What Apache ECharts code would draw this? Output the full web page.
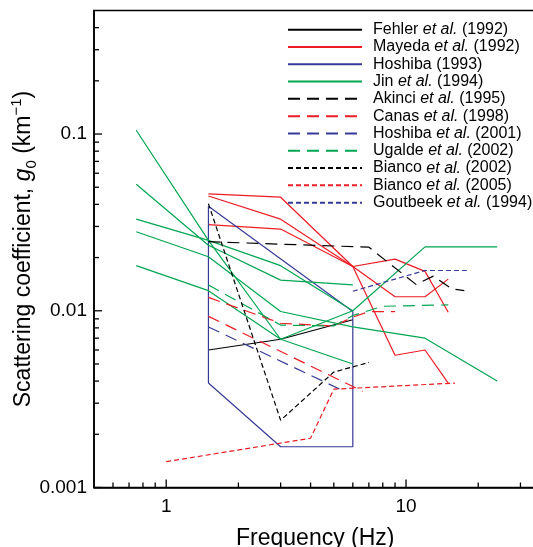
<!DOCTYPE html>
<html><head><meta charset="utf-8">
<script src="https://cdn.jsdelivr.net/npm/echarts@6/dist/echarts.min.js"></script>
<style>html,body{margin:0;padding:0;background:#fff}#c{width:533px;height:547px}</style>
</head><body><div id="c"></div>
<script>
// ---- data (frequency Hz, g0 km^-1) ----
const fehler = [[1.5,0.0060],[3,0.0069],[6,0.0089]];
const mayeda1 = [[1.5,0.0458],[3,0.0439],[6,0.0178],[9,0.0196],[12,0.0167],[15,0.0098]];
const mayeda2 = [[1.5,0.0446],[3,0.0330],[6,0.0178],[9,0.0120],[12,0.0120],[15,0.0151]];
const mayeda3 = [[1.5,0.0307],[3,0.0290],[6,0.0178],[9,0.0056],[12,0.0060],[15,0.0039]];
const hoshiba93 = [[1.5,0.039],[6,0.0099],[6,0.0017],[3,0.0017],[1.5,0.0039],[1.5,0.039]];
const jin1 = [[0.75,0.105],[1.5,0.025],[3,0.0069],[6,0.0100],[12,0.023],[24,0.023]];
const jin2 = [[0.75,0.052],[1.5,0.0235],[3,0.0149],[6,0.0140]];
const jin3 = [[0.75,0.033],[1.5,0.025],[3,0.0180],[6,0.0100]];
const jin4 = [[0.75,0.028],[1.5,0.0202],[3,0.0099],[6,0.0081],[12,0.0070],[24,0.0040]];
const jin5 = [[0.75,0.018],[1.5,0.013],[3,0.0069],[6,0.0050]];
const akinci = [[1.5,0.0246],[7,0.0229],[11,0.0141],[13,0.0157],[15.5,0.0133],[17.5,0.0130]];
const canas1 = [[1.5,0.0119],[3,0.0085],[5,0.0082],[6,0.0092],[7,0.0099],[9,0.0099]];
const canas2 = [[1.5,0.0093],[6.6,0.0035]];
const hoshiba01 = [[1.5,0.0081],[5.3,0.0036]];
const ugalde = [[1.5,0.0140],[3,0.0083],[5,0.0082],[6,0.0094],[8,0.0106],[15,0.0108]];
const bianco02 = [[1.5,0.0404],[3,0.0024],[5,0.0045],[7,0.0051]];
const bianco05 = [[1,0.0014],[4,0.0019],[5,0.0036],[16,0.0039]];
const goutbeek = [[6,0.0129],[12,0.0169],[18,0.0169]];

const xTicks = [0.6,0.7,0.8,0.9,1,2,3,4,5,6,7,8,9,10,20,30];
const yTicks = [0.001,0.002,0.003,0.004,0.005,0.006,0.007,0.008,0.009,0.01,0.02,0.03,0.04,0.05,0.06,0.07,0.08,0.09,0.1,0.2,0.3,0.4];

const RED='#ed1c24', GREEN='#00a651', BLUE='#363a96', BLACK='#000000';
const LONG=[12,7], SHORT=[5,3];

const legendNames = [
 ['Fehler','et al.','(1992)'],['Mayeda','et al.','(1992)'],['Hoshiba','', '(1993)'],['Jin','et al.','(1994)'],
 ['Akinci','et al.','(1995)'],['Canas','et al.','(1998)'],['Hoshiba','et al.','(2001)'],['Ugalde','et al.','(2002)'],
 ['Bianco','et al.','(2002)'],['Bianco','et al.','(2005)'],['Goutbeek','et al.','(1994)']
];
const names = legendNames.map(a => a.join(' ').replace('  ',' '));

function line(name, data, color, dash){
  return {type:'line', name, data, symbol:'none', silent:true, animation:false,
    lineStyle:{color, width:1.2, type: dash || 'solid'}, itemStyle:{color}};
}
const series = [
  line(names[0], fehler, BLACK),
  line(names[1], mayeda1, RED), line(names[1], mayeda2, RED), line(names[1], mayeda3, RED),
  line(names[2], hoshiba93, BLUE),
  line(names[3], jin1, GREEN), line(names[3], jin2, GREEN), line(names[3], jin3, GREEN), line(names[3], jin4, GREEN), line(names[3], jin5, GREEN),
  line(names[4], akinci, BLACK, LONG),
  line(names[5], canas1, RED, LONG), line(names[5], canas2, RED, LONG),
  line(names[6], hoshiba01, BLUE, LONG),
  line(names[7], ugalde, GREEN, LONG),
  line(names[8], bianco02, BLACK, SHORT),
  line(names[9], bianco05, RED, SHORT),
  line(names[10], goutbeek, BLUE, SHORT)
];
const XMIN=0.5, XMAX=35, YMIN=0.001, YMAX=0.5;
function isPow10(v){ const l=Math.log10(v); return Math.abs(l-Math.round(l))<1e-6; }
series.push({type:'custom', silent:true, animation:false, clip:false, z:10,
  data: xTicks.map(v=>[v, YMIN]), encode:{x:0,y:1},
  renderItem:(p,api)=>{ const v=api.value(0); const c=api.coord([v, api.value(1)]); const L=isPow10(v)?8:5;
    return {type:'line', shape:{x1:c[0],y1:c[1],x2:c[0],y2:c[1]-L}, style:{stroke:'#000',lineWidth:1.3}}; }});
series.push({type:'custom', silent:true, animation:false, clip:false, z:10,
  data: yTicks.map(v=>[XMIN, v]), encode:{x:0,y:1},
  renderItem:(p,api)=>{ const v=api.value(1); const c=api.coord([api.value(0), v]); const L=isPow10(v)?8:5;
    return {type:'line', shape:{x1:c[0],y1:c[1],x2:c[0]+L,y2:c[1]}, style:{stroke:'#000',lineWidth:1.3}}; }});

const FONT='Liberation Sans, Arial, Helvetica, sans-serif';
const chart = echarts.init(document.getElementById('c'));
chart.setOption({
  animation:false,
  grid:{left:94, right:-3.5, top:10.5, bottom:59.5, show:true, borderColor:'#000', borderWidth:1.6,
        containLabel:false, outerBoundsMode:'none'},
  legend:{
    orient:'vertical', left:287, top:21, padding:0, itemWidth:74, itemHeight:12, itemGap:0,
    itemStyle:{opacity:0},
    data: names,
    formatter: (n)=>{ const a = legendNames[names.indexOf(n)];
      return '{sp|}{n|'+a[0]+' }'+(a[1]?'{i|'+a[1]+'}{n| }':'')+'{n|'+a[2]+'}'; },
    textStyle:{fontFamily:FONT, fontSize:16, color:'#000', lineHeight:17.3,
      rich:{sp:{width:6}, n:{fontFamily:FONT, fontSize:16, lineHeight:17.3}, i:{fontFamily:FONT, fontSize:16, fontStyle:'italic', lineHeight:17.3}}}
  },
  xAxis:{type:'log', logBase:10, min:XMIN, max:XMAX,
    name:'Frequency (Hz)', nameLocation:'middle', nameGap:40, nameMoveOverlap:false,
    nameTextStyle:{fontFamily:FONT, fontSize:23, color:'#000'},
    axisLine:{lineStyle:{color:'#000', width:1.6}}, axisTick:{show:false}, splitLine:{show:false},
    axisLabel:{margin:10, fontFamily:FONT, fontSize:19, color:'#000', showMinLabel:true, showMaxLabel:true,
      formatter:(v)=> isPow10(v) ? String(Number(v.toPrecision(6))) : ''}},
  yAxis:{type:'log', logBase:10, min:YMIN, max:YMAX,
    name:'{n|Scattering coefficient, }{i|g}{sub|0}{n| (km}{sup|−1}{n|)}', nameLocation:'middle', nameGap:55, nameRotate:90,
    nameMoveOverlap:false,
    nameTextStyle:{fontFamily:FONT, fontSize:23, color:'#000',
      rich:{n:{fontFamily:FONT,fontSize:23,lineHeight:30,verticalAlign:'middle'},
            i:{fontFamily:FONT,fontSize:23,fontStyle:'italic',lineHeight:30,verticalAlign:'middle'},
            sub:{fontFamily:FONT,fontSize:15,lineHeight:16,verticalAlign:'bottom'},
            sup:{fontFamily:FONT,fontSize:15,lineHeight:16,verticalAlign:'top'}}},
    axisLine:{lineStyle:{color:'#000', width:1.6}}, axisTick:{show:false}, splitLine:{show:false},
    axisLabel:{margin:7, fontFamily:FONT, fontSize:19, color:'#000',
      formatter:(v)=> isPow10(v) ? String(Number(v.toPrecision(6))) : ''}},
  series
});
</script></body></html>
